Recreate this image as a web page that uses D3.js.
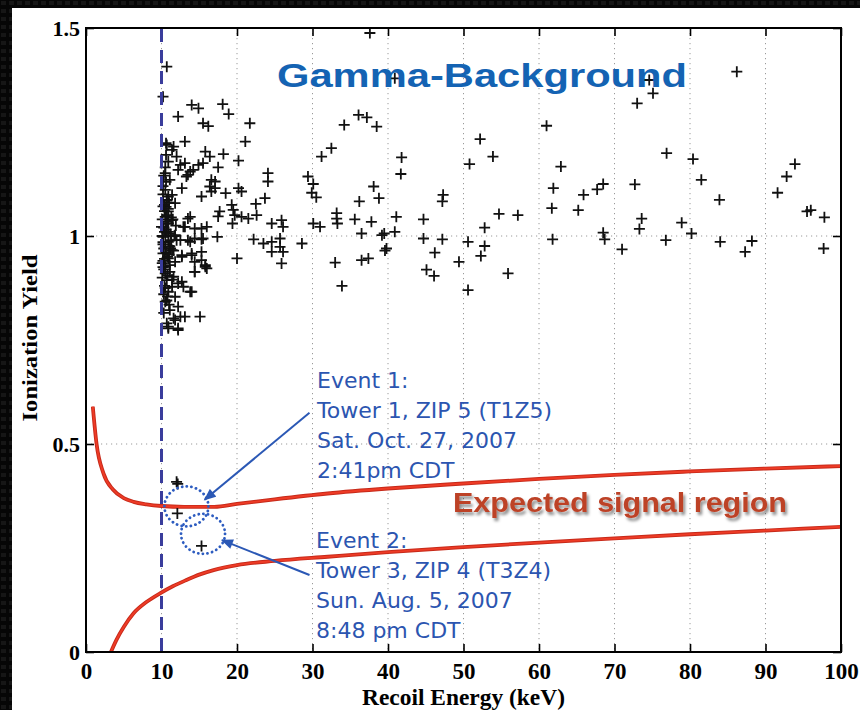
<!DOCTYPE html>
<html><head><meta charset="utf-8">
<script src="https://cdn.jsdelivr.net/npm/d3@7"></script>
<style>html,body{margin:0;padding:0;background:#000;} svg{display:block;}</style>
</head><body>
<script>
// ---------- data ----------
const xTickValues = [0,10,20,30,40,50,60,70,80,90,100];
const yTickValues = [0,0.5,1,1.5];
const yTickLabels = ["0","0.5","1","1.5"];
const thresholdEnergy = 10;

const gammaEnergy = [
 10.7,10.2,14.0,14.9,18.1,18.9,12.2,15.5,16.2,21.7,13.1,10.6,11.6,21.1,15.8,16.4,18.2,12.5,14.9,15.5,17.5,20.2,13.8,13.3,14.2,24.1,24.1,29.4,30.1,29.9,30.5,16.6,17.1,16.4,17.1,12.7,18.5,20.2,20.6,15.3,16.6,23.7,22.5,19.3,19.5,17.7,17.5,19.7,20.6,21.5,22.6,19.4,24.6,25.9,26.1,30.1,31.0,13.8,12.9,14.4,15.3,16.0,12.0,13.8,15.3,17.4,22.2,23.5,24.6,25.7,25.7,28.6,24.6,26.1,12.7,14.0,15.3,14.4,15.3,20.0,25.9,14.4,15.8,16.0,33.0,12.7,13.8,15.1,12.5,11.6,12.2,10.9,
 37.6,40.9,36.1,37.2,34.2,38.5,32.5,31.2,41.8,41.7,38.1,36.2,38.8,47.3,47.2,33.2,33.2,33.3,35.6,37.8,41.1,44.7,36.5,39.2,39.5,40.9,44.7,47.2,39.8,39.6,46.2,36.5,37.4,45.1,46.1,33.9,49.4,50.6,50.6,50.8,52.2,53.9,52.8,52.8,52.3,54.7,57.2,55.9,61.0,62.9,61.9,61.7,61.8,65.2,65.9,67.7,68.5,68.5,68.7,71.0,73.0,74.6,75.1,76.9,72.7,73.6,73.3,76.8,78.9,80.2,80.4,81.5,83.9,84.0,86.2,87.3,88.2,91.6,92.8,93.9,95.5,96.0,97.8,97.7,
 10.7,11.4,10.6,12.0,10.9,13.1,12.2,13.5,10.5,11.1,10.5,11.4,10.7,11.8,10.2,10.9,10.5,11.4,13.5,13.1,10.0,10.7,11.8,10.2,10.9,12.5,13.5,14.4,15.5,10.5,11.4,10.2,12.7,14.0,10.9,11.8,15.8,14.4,10.5,11.1,11.6,10.7,12.2,11.4,12.9,10.9,14.0,11.8,10.5,12.2,11.1,13.1,11.8,10.7,12.2,10.9,
 10.1,10.3,10.2,10.4,10.6,10.3,10.8,10.5,10.1,10.2,10.9,11.2,10.4,10.7,11.0,10.2,10.3,11.3,10.6,10.1,10.4,10.8,11.5,10.2,10.6,11.1,10.3,10.9,10.5,11.7,
 10.2,10.6,11.0,10.4,10.8,11.3,10.1,10.5,10.9,11.6,10.3,10.7,11.2,10.2,10.6,11.4,10.9,10.3,11.1,10.5,10.8,11.9,10.4,11.0,10.7
];
const gammaYield = [
 1.407,1.335,1.315,1.307,1.317,1.293,1.287,1.271,1.264,1.271,1.227,1.223,1.215,1.227,1.203,1.191,1.197,1.171,1.171,1.175,1.165,1.181,1.155,1.143,1.159,1.151,1.131,1.143,1.125,1.104,1.093,1.135,1.131,1.119,1.115,1.115,1.103,1.115,1.107,1.095,1.107,1.091,1.077,1.075,1.063,1.059,1.047,1.050,1.046,1.042,1.050,1.030,1.030,1.038,1.022,1.030,1.022,1.046,1.022,1.018,1.018,1.022,0.990,0.986,0.992,0.998,0.992,0.982,0.986,0.994,0.974,0.982,0.962,0.962,0.950,0.954,0.962,0.938,0.942,0.946,0.934,0.914,0.926,0.922,0.936,0.890,0.866,0.806,0.806,0.802,0.778,0.782,
 1.488,1.379,1.291,1.285,1.267,1.263,1.211,1.191,1.189,1.149,1.119,1.083,1.091,1.099,1.083,1.055,1.042,1.030,1.040,1.034,1.046,1.040,1.006,1.002,1.006,1.010,0.994,0.992,0.970,0.965,0.960,0.942,0.946,0.919,0.904,0.880,0.938,0.986,0.870,1.173,1.233,1.191,1.020,0.976,0.952,1.053,1.050,0.910,1.265,1.167,1.115,1.067,0.992,1.062,1.099,1.112,1.125,1.008,0.992,0.968,1.319,1.375,1.343,1.199,1.124,1.042,1.017,0.990,1.032,1.006,1.185,1.135,1.087,0.986,1.395,0.962,0.988,1.104,1.143,1.173,1.059,1.062,1.045,0.970,
 1.219,1.207,1.195,1.191,1.179,1.175,1.159,1.147,1.151,1.135,1.111,1.099,1.087,1.079,1.071,1.059,1.046,1.038,1.042,1.022,1.022,1.010,1.002,0.998,0.986,0.990,0.990,0.994,0.994,0.974,0.966,0.958,0.954,0.958,0.946,0.938,0.930,0.914,0.926,0.914,0.902,0.894,0.886,0.878,0.878,0.866,0.866,0.854,0.842,0.830,0.822,0.806,0.798,0.790,0.774,0.778,
 1.00,1.02,0.98,1.06,0.96,0.92,1.03,1.00,1.04,0.94,1.01,0.97,0.88,1.05,1.08,1.10,0.86,0.99,1.13,0.90,1.01,0.95,1.04,1.12,1.07,0.93,0.97,1.03,0.91,1.00,
 0.985,1.015,0.955,1.075,0.905,1.045,0.935,0.875,1.095,0.965,1.145,0.845,1.005,0.925,1.035,0.895,1.065,0.815,0.975,1.165,0.855,1.025,0.945,0.835,1.085
];
const eventEnergy = [12.0, 12.15, 12.1, 15.3];
const eventYield  = [0.409, 0.404, 0.333, 0.255];

const upperEnergy = [0.9,1.4,2.3,3.6,5,6.3,8,10,13,17,20,25,32,40,50,60,70,80,90,100];
const upperYield  = [0.59,0.50,0.43,0.39,0.37,0.361,0.355,0.351,0.349,0.349,0.356,0.367,0.381,0.393,0.405,0.416,0.426,0.434,0.441,0.447];
const lowerEnergy = [3.3,4,5,6.3,8,9.8,11.5,13.3,15,16.9,20,25,32,40,50,60,70,80,90,100];
const lowerYield  = [0.0,0.028,0.060,0.093,0.120,0.141,0.158,0.173,0.186,0.197,0.209,0.219,0.229,0.240,0.252,0.263,0.273,0.283,0.292,0.301];

const circleEnergy = [13.3, 15.5];
const circleYield  = [0.350, 0.284];
const arrowFromEnergy = [29.6, 29.6];
const arrowFromYield  = [0.575, 0.185];
const arrowToEnergy   = [15.7, 18.0];
const arrowToYield    = [0.366, 0.269];

const event1Lines = ["Event 1:", "Tower 1, ZIP 5 (T1Z5)", "Sat. Oct. 27, 2007", "2:41pm CDT"];
const event2Lines = ["Event 2:", "Tower 3, ZIP 4 (T3Z4)", "Sun. Aug. 5, 2007", "8:48 pm CDT"];
const titleText = "Gamma-Background";
const signalText = "Expected signal region";
const xLabel = "Recoil Energy (keV)";
const yLabel = "Ionization Yield";

// ---------- drawing ----------
const W = 860, H = 710;
const svg = d3.select("body").append("svg").attr("width", W).attr("height", H);
const defs = svg.append("defs");

const pat = defs.append("pattern").attr("id","tex").attr("width",8).attr("height",8).attr("patternUnits","userSpaceOnUse");
pat.append("rect").attr("width",8).attr("height",8).attr("fill","#060606");
pat.append("rect").attr("x",1).attr("y",1).attr("width",5).attr("height",4).attr("fill","#161616");
svg.append("rect").attr("width",W).attr("height",H).attr("fill","url(#tex)");
svg.append("rect").attr("x",12).attr("y",8).attr("width",W-12).attr("height",H-8).attr("fill","#fff");

const sh = defs.append("filter").attr("id","shadow").attr("x","-10%").attr("y","-30%").attr("width","130%").attr("height","170%");
sh.append("feDropShadow").attr("dx",2).attr("dy",3).attr("stdDeviation",1.6).attr("flood-color","#000").attr("flood-opacity",0.45);

defs.append("marker").attr("id","ah").attr("viewBox","0 0 12 10").attr("refX",11).attr("refY",5)
  .attr("markerWidth",13).attr("markerHeight",10).attr("markerUnits","userSpaceOnUse").attr("orient","auto")
  .append("path").attr("d","M0,0L12,5L0,10Z").attr("fill","#2b58b5");

const L = 86, R = 841, T = 28, B = 652;
const x = d3.scaleLinear().domain([0,100]).range([L,R]);
const y = d3.scaleLinear().domain([0,1.5]).range([B,T]);

defs.append("clipPath").attr("id","plot").append("rect").attr("x",L).attr("y",T).attr("width",R-L).attr("height",B-T);

// grid
const grid = svg.append("g").attr("stroke","#9a9a9a").attr("stroke-width",1).attr("stroke-dasharray","1.2,3.8");
grid.selectAll("line.v").data(xTickValues.filter(d => d>0 && d<100)).join("line")
  .attr("x1",d=>x(d)).attr("x2",d=>x(d)).attr("y1",T).attr("y2",B);
grid.selectAll("line.h").data(yTickValues.filter(d => d>0 && d<1.5)).join("line")
  .attr("x1",L).attr("x2",R).attr("y1",d=>y(d)).attr("y2",d=>y(d));

// axes
const serif = "'Liberation Serif','Times New Roman',Times,serif";
const xAxis = svg.append("g").attr("transform",`translate(0,${B})`)
  .call(d3.axisBottom(x).tickValues(xTickValues).tickSizeInner(-8).tickSizeOuter(0).tickPadding(11).tickFormat(d3.format("d")));
const yAxis = svg.append("g").attr("transform",`translate(${L},0)`)
  .call(d3.axisLeft(y).tickValues(yTickValues).tickSizeInner(-8).tickSizeOuter(0).tickPadding(6).tickFormat((d,i)=>yTickLabels[i]));
const tAxis = svg.append("g").attr("transform",`translate(0,${T})`)
  .call(d3.axisTop(x).tickValues(xTickValues).tickSizeInner(-8).tickSizeOuter(0).tickFormat(""));
const rAxis = svg.append("g").attr("transform",`translate(${R},0)`)
  .call(d3.axisRight(y).tickValues(yTickValues).tickSizeInner(-8).tickSizeOuter(0).tickFormat(""));
[xAxis,yAxis,tAxis,rAxis].forEach(g => {
  g.select(".domain").remove();
  g.selectAll(".tick line").attr("stroke","#000").attr("stroke-width",1.6);
  g.selectAll(".tick text").attr("font-family",serif).attr("font-weight","bold").attr("fill","#000");
});
xAxis.selectAll(".tick text").attr("font-size",23);
yAxis.selectAll(".tick text").attr("font-size",22);

// red boundaries
const line = d3.line().x(d=>x(d[0])).y(d=>y(d[1])).curve(d3.curveMonotoneX);
const curves = svg.append("g").attr("clip-path","url(#plot)");
[[upperEnergy,upperYield],[lowerEnergy,lowerYield]].forEach(([ex,ey]) => {
  const pts = ex.map((e,i)=>[e,ey[i]]);
  curves.append("path").attr("d",line(pts)).attr("fill","none").attr("stroke","#c62a1a").attr("stroke-width",3.8);
  curves.append("path").attr("d",line(pts)).attr("fill","none").attr("stroke","#ee3b26").attr("stroke-width",1.9);
});

// scatter
const plus = "M-5.5,0H5.5M0,-5.5V5.5";
const pts = svg.append("g").attr("clip-path","url(#plot)").attr("stroke","#111").attr("stroke-width",1.8).attr("fill","none");
pts.selectAll("path.g").data(gammaEnergy.map((e,i)=>[e,gammaYield[i]])).join("path")
  .attr("d",plus).attr("transform",d=>`translate(${x(d[0])},${y(d[1])})`);
pts.selectAll("path.e").data(eventEnergy.map((e,i)=>[e,eventYield[i]])).join("path")
  .attr("d",plus).attr("transform",d=>`translate(${x(d[0])},${y(d[1])})`);

// threshold line
svg.append("line").attr("x1",x(thresholdEnergy)).attr("x2",x(thresholdEnergy)).attr("y1",T+1).attr("y2",B)
  .attr("stroke","#3a3d9c").attr("stroke-width",3).attr("stroke-dasharray","13,8");

// frame
svg.append("rect").attr("x",L).attr("y",T).attr("width",R-L).attr("height",B-T)
  .attr("fill","none").attr("stroke","#000").attr("stroke-width",2);

// event circles
svg.append("g").selectAll("ellipse").data(circleEnergy.map((e,i)=>[e,circleYield[i]])).join("ellipse")
  .attr("cx",d=>x(d[0])).attr("cy",d=>y(d[1])).attr("rx",22).attr("ry",20)
  .attr("fill","none").attr("stroke","#2d5cc0").attr("stroke-width",2.8)
  .attr("stroke-dasharray","0.1,4.6").attr("stroke-linecap","round");

// arrows
svg.append("g").selectAll("line").data(arrowFromEnergy.map((e,i)=>i)).join("line")
  .attr("x1",i=>x(arrowFromEnergy[i])).attr("y1",i=>y(arrowFromYield[i]))
  .attr("x2",i=>x(arrowToEnergy[i])).attr("y2",i=>y(arrowToYield[i]))
  .attr("stroke","#2b58b5").attr("stroke-width",2).attr("marker-end","url(#ah)");

// event texts
const sans = "'DejaVu Sans',Verdana,sans-serif";
function textBlock(lines, x0, y0) {
  svg.append("g").selectAll("text").data(lines).join("text")
    .attr("x",x0).attr("y",(d,i)=>y0+i*30).text(d=>d)
    .attr("font-family",sans).attr("font-size",22).attr("fill","#2c55b0");
}
textBlock(event1Lines, 317, 388);
textBlock(event2Lines, 316, 548);

// title
svg.append("text").attr("x",277).attr("y",87).text(titleText)
  .attr("font-family","'Liberation Sans',Arial,Helvetica,sans-serif").attr("font-weight","bold")
  .attr("font-size",33).attr("fill","#1463b3").attr("textLength",410).attr("lengthAdjust","spacingAndGlyphs");

// signal region label
svg.append("text").attr("x",453).attr("y",512).text(signalText)
  .attr("font-family","'Liberation Sans',Arial,Helvetica,sans-serif").attr("font-weight","bold")
  .attr("font-size",28).attr("fill","#bd4228").attr("textLength",334).attr("lengthAdjust","spacingAndGlyphs")
  .attr("filter","url(#shadow)");

// axis labels
svg.append("text").attr("x",(L+R)/2).attr("y",705).attr("text-anchor","middle").text(xLabel)
  .attr("font-family",serif).attr("font-weight","bold").attr("font-size",23)
  .attr("textLength",203).attr("lengthAdjust","spacingAndGlyphs");
svg.append("text").attr("transform","translate(37,338) rotate(-90)").attr("text-anchor","middle").text(yLabel)
  .attr("font-family",serif).attr("font-weight","bold").attr("font-size",22)
  .attr("textLength",167).attr("lengthAdjust","spacingAndGlyphs");
</script>
</body></html>
